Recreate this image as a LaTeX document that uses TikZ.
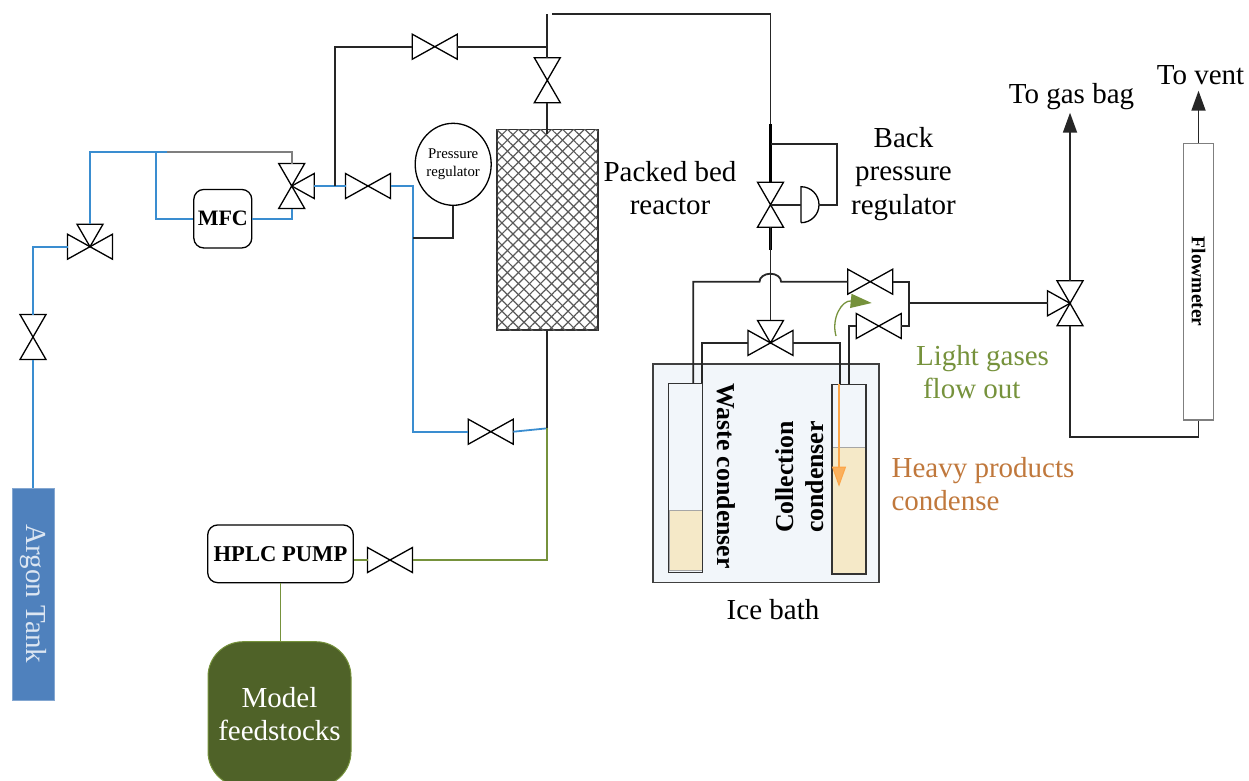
\documentclass[tikz,border=0pt]{standalone}
\usepackage{fontspec}
\setmainfont{Liberation Serif}
\usetikzlibrary{shapes.geometric,arrows.meta,patterns.meta}
\definecolor{cBlue}{HTML}{3A8DD0}
\definecolor{cGreen}{HTML}{76923C}
\definecolor{cGray}{HTML}{7F7F7F}
\definecolor{cTank}{HTML}{4F81BD}
\definecolor{cFeed}{HTML}{4F6228}
\definecolor{cBath}{HTML}{F2F6FA}
\definecolor{cLiquid}{HTML}{F5E9C8}
\definecolor{cLight}{HTML}{76923C}
\definecolor{cHeavy}{HTML}{C0783C}
\definecolor{cDrop}{HTML}{FBB05C}
\newcommand{\lab}[1]{\fontsize{#1}{33.5}\selectfont}

\begin{document}
\begin{tikzpicture}[
    x=1pt, y=-1pt,
    pipe/.style={line width=1.8pt, draw=black!85},
    thickpipe/.style={line width=2.2pt, draw=black},
    bluepipe/.style={line width=1.8pt, draw=cBlue},
    greenpipe/.style={line width=1.8pt, draw=cGreen},
    graypipe/.style={line width=1.8pt, draw=cGray},
    valveline/.style={line width=1.3pt, draw=black, fill=white, line join=miter},
    outflow/.style={pipe, -{Triangle[length=20pt,width=14pt]}},
    armn/.style={append after command={\pgfextra{\let\vn\tikzlastnode
      \draw[valveline] (\vn.center) -- ++(-13,-22.5) -- ++(26,0) -- cycle;}}},
    arms/.style={append after command={\pgfextra{\let\vn\tikzlastnode
      \draw[valveline] (\vn.center) -- ++(-13,22.5) -- ++(26,0) -- cycle;}}},
    arme/.style={append after command={\pgfextra{\let\vn\tikzlastnode
      \draw[valveline] (\vn.center) -- ++(22.5,-12.5) -- ++(0,25) -- cycle;}}},
    armw/.style={append after command={\pgfextra{\let\vn\tikzlastnode
      \draw[valveline] (\vn.center) -- ++(-22.5,-12.5) -- ++(0,25) -- cycle;}}},
    valve3/.style={rectangle, inner sep=0pt, outer sep=0pt, minimum size=45pt},
    valveh/.style={valve3, minimum height=25pt, armw, arme},
    valvev/.style={valve3, minimum width=26pt, armn, arms},
    actuator/.style={rectangle, inner sep=0pt, outer sep=0pt, minimum width=18pt, minimum height=36pt,
      append after command={\pgfextra{\let\vn\tikzlastnode
      \draw[valveline] (\vn.south west) -- (\vn.north west) arc[start angle=-90, end angle=90, radius=18] ;}}},
    unit/.style={rectangle, rounded corners=10pt, draw=black, line width=1.3pt, align=center, font=\bfseries},
    tube/.style={rectangle, draw=black!80, line width=1.5pt, minimum width=34pt, inner sep=0pt, outer sep=0pt},
    liquid/.style={rectangle, fill=cLiquid, draw=black!35, line width=0.6pt, minimum width=33pt, inner sep=0pt},
    title/.style={align=center, inner sep=0pt, font=\lab{29}},
    boldtitle/.style={align=center, inner sep=0pt, font=\fontsize{25.8}{30}\selectfont\bfseries},
  ]
  \clip (0,0) rectangle (1249,780);

  \node[rectangle, fill=cBath, draw=black!75, line width=1.4pt, minimum width=226pt, minimum height=218.7pt] (bath) at (765.8,473.3) {};
  \node[liquid, minimum height=60pt] (wasteLiq) at (685.3,540.5) {};
  \node[liquid, minimum height=127pt] (collLiq) at (848.8,510.5) {};
  \node[tube, minimum height=189.4pt] (waste) at (685.3,478) {};
  \node[tube, minimum height=189.7pt] (coll) at (848.8,479.2) {};

  \node[rectangle, fill=cTank, draw=cTank!70, minimum width=212pt, minimum height=42pt, rotate=-90, text=cTank!20, inner sep=0pt, font=\lab{29}] (argon) at (33,594) {Argon Tank};
  \node[unit, minimum width=58pt, minimum height=58.5pt, font=\lab{22}\bfseries, inner sep=0pt] (mfc) at (222.8,218.7) {MFC};
  \node[unit, minimum width=145.6pt, minimum height=57.7pt, font=\lab{22.6}\bfseries, inner sep=0pt] (pump) at (280.5,553.8) {HPLC PUMP};
  \node[rectangle, rounded corners=35pt, fill=cFeed, draw=cGreen, line width=1pt, text=white, align=center, minimum width=143pt, minimum height=145pt, inner sep=0pt, font=\lab{29}] (feed) at (279.5,714.2) {Model\\feedstocks};
  \node[ellipse, draw=black, line width=1.3pt, minimum width=76pt, minimum height=82pt, inner sep=0pt, align=center, font=\fontsize{14.8}{18}\selectfont] (reg) at (453.2,164.3) {Pressure\\regulator};
  \node[rectangle, draw=black!80, line width=1.8pt, minimum width=101pt, minimum height=200.5pt,
    pattern={Lines[angle=45,distance=7.8pt,line width=1.2pt]}, pattern color=black!65,
    postaction={pattern={Lines[angle=-45,distance=7.8pt,line width=1.2pt]}, pattern color=black!65}] (reactor) at (547.3,229.8) {};
  \node[rectangle, draw=cGray, line width=1.5pt, fill=white, minimum width=276.7pt, minimum height=30.4pt, rotate=-90, inner sep=0pt, font=\lab{19.5}\bfseries] (flow) at (1198.5,281.7) {Flowmeter};

  \node[valvev] (vTank) at (33,337) {};
  \node[valve3, armn, armw, arme] (vArgon) at (90,246.7) {};
  \node[valve3, armn, arms, arme] (vSplit) at (291.7,186) {};
  \node[valveh] (vFeed) at (368,186) {};
  \node[valveh] (vOut) at (434.8,46.7) {};
  \node[valvev] (vReactor) at (547.3,80.2) {};
  \node[valveh] (vPurge) at (490.8,431.7) {};
  \node[valveh] (vPump) at (390,560) {};
  \node[valvev] (vBack) at (770.5,204.7) {};
  \node[actuator] (bpr) at (810,204.7) {};
  \node[valve3, armn, armw, arme] (vTrap) at (770.5,342.9) {};
  \node[valveh] (vGas) at (870.2,281.7) {};
  \node[valveh] (vLiq) at (878.8,326) {};
  \node[valve3, armn, arms, armw] (vSelect) at (1070,303.3) {};

  \coordinate (jTop) at (167,152);
  \coordinate (jBranch) at (156,152);
  \coordinate (jUp) at (334.7,186);
  \coordinate (jReg) at (413.3,237.7);
  \coordinate (jMix) at (547.3,428.3);
  \coordinate (jIn) at (547.3,46.7);
  \coordinate (jHead) at (547.3,14);
  \coordinate (jCross) at (552,14.3);
  \coordinate (jBack) at (770.5,124);
  \coordinate (jLoop) at (770.5,144);
  \coordinate (jLoopEnd) at (836.7,204.7);
  \coordinate (hopL) at (759.5,281.7);
  \coordinate (wasteOut) at (693.3,383.3);
  \coordinate (wasteIn) at (702.3,383.3);
  \coordinate (collIn) at (840.3,384.3);
  \coordinate (collOut) at (848.7,384.3);
  \coordinate (jBusLow) at (909.3,326);
  \coordinate (jBus) at (909.3,303.3);
  \coordinate (jFlow) at (1198.5,437.3);
  \coordinate (endBag) at (1070,112.7);
  \coordinate (endVent) at (1198.5,90.7);
  \coordinate (dropTop) at (839,384.3);
  \coordinate (dropTip) at (839,486.7);
  \coordinate (curlTail) at (836,336);
  \coordinate (curlTip) at (871.7,303);

  \draw[bluepipe] (argon.west) -- (vTank.south);
  \draw[bluepipe] (vTank.north) |- (vArgon.west);
  \draw[bluepipe] (vArgon.north) |- (jTop);
  \draw[graypipe] (jTop) -| (vSplit.north);
  \draw[bluepipe] (jBranch) |- (mfc.west);
  \draw[bluepipe] (mfc.east) -| (vSplit.south);
  \draw[bluepipe] (vSplit.east) -- (vFeed.west);
  \draw[bluepipe] (vFeed.east) -| (jReg) |- (vPurge.west);
  \draw[pipe] (reg.south) |- (jReg);
  \draw[bluepipe] (vPurge.east) -- (jMix);
  \draw[greenpipe] (jMix) |- (vPump.east);
  \draw[greenpipe] (pump.east |- vPump.west) -- (vPump.west);
  \draw[greenpipe] (pump.south) -- (pump.south |- feed.north);
  \draw[pipe] (reactor.south) -- (jMix);
  \draw[pipe] (jUp) |- (vOut.west);
  \draw[pipe] (vOut.east) -- (jIn);
  \draw[pipe] (jHead) -- (vReactor.north);
  \draw[pipe] (vReactor.south) -- ([yshift=-5pt]reactor.north);
  \draw[pipe] (jCross) -| (jBack);
  \draw[thickpipe] (jBack) -- (vBack.north);
  \draw[pipe] (jLoop) -| (jLoopEnd) -- (bpr.east);
  \draw[pipe] (vBack.center) -- (bpr.west);
  \draw[thickpipe] (vBack.south) -- ++(0,23);
  \draw[pipe] (vBack.south) -- (vTrap.north);
  \draw[pipe] (wasteOut) |- (hopL) arc[start angle=180, end angle=360, x radius=10.8, y radius=8] -- (vGas.west);
  \draw[pipe] (vTrap.west) -| (wasteIn);
  \draw[pipe] (vTrap.east) -| (collIn);
  \draw[pipe] (vGas.east) -| (jBusLow) -- (vLiq.east);
  \draw[pipe] (vLiq.west) -| (collOut);
  \draw[pipe] (jBus) -- (vSelect.west);
  \draw[outflow] (vSelect.north) -- (endBag);
  \draw[pipe] (vSelect.south) |- (jFlow) -- (flow.east);
  \draw[outflow] (flow.west) -- (endVent);
  \draw[line width=1.1pt, draw=cDrop!80!orange, -{Triangle[length=20pt,width=14pt,fill=cDrop]}] (dropTop) -- (dropTip);
  \draw[line width=1.3pt, draw=cLight, -{Triangle[length=21pt,width=14pt]}] (curlTail) .. controls (831,318) and (842,300) .. (curlTip);

  \node[title] (tReactor) at (670,188) {Packed bed\\reactor};
  \node[title] (tBack) at (903.5,174) {Back\\pressure\\regulator};
  \node[title, text=cLight, align=left] (tLight) at (982.5,372) {Light gases\\\hspace*{7pt}flow out};
  \node[title, text=cHeavy, align=left] (tHeavy) at (983,484) {Heavy products\\condense};
  \node[title] (tBag) at (1071.5,97) {To gas bag};
  \node[title] (tVent) at (1200.5,75) {To vent};
  \node[title] (tIce) at (773,610) {Ice bath};
  \node[boldtitle, rotate=-90] (tWaste) at (726.5,476) {Waste condenser};
  \node[boldtitle, rotate=90] (tColl) at (800,477) {Collection\\condenser};
\end{tikzpicture}
\end{document}
